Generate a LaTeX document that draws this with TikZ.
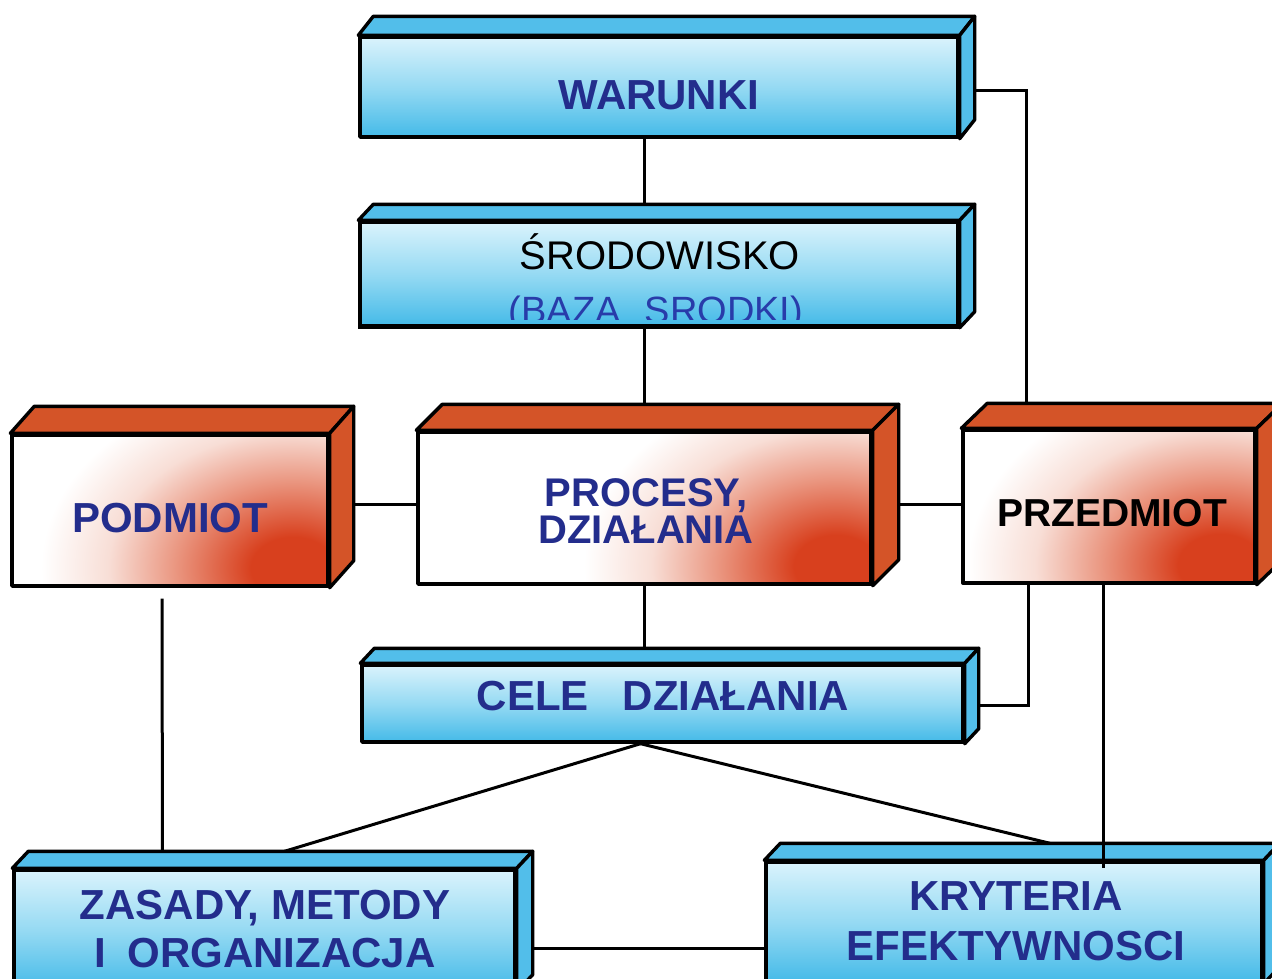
\documentclass[tikz,border=0pt]{standalone}
\usepackage{fontspec}
\setmainfont{Liberation Sans}
\usetikzlibrary{calc}

\definecolor{txtblue}{RGB}{35,45,140}
\definecolor{txtblue2}{RGB}{40,60,170}
\definecolor{bluetop}{RGB}{218,243,252}
\definecolor{bluemid}{RGB}{150,218,243}
\definecolor{bluebot}{RGB}{68,186,232}
\definecolor{blueside}{RGB}{82,190,234}
\definecolor{brick}{RGB}{212,84,40}
\definecolor{glowcore}{RGB}{216,64,30}
\definecolor{glowmid}{RGB}{234,150,128}
\definecolor{glowpale}{RGB}{248,222,214}

% glow for the front faces of the brick boxes
\pgfdeclareradialshading{glow}{\pgfpoint{0bp}{0bp}}{%
  color(0bp)=(glowcore); color(2.5bp)=(glowcore); color(7bp)=(glowmid);
  color(11bp)=(glowpale); color(15bp)=(white); color(50bp)=(white)}

\pgfdeclarelayer{paper}
\pgfdeclarelayer{wires}
\pgfsetlayers{paper,wires,main}

% top and right faces of a box drawn behind a front-face node
\newcommand{\boxdepth}[4]{%
  \filldraw[#4] (#1.north west) -- ++(#2,-#3) -- ($(#1.north east)+(#2,-#3)$)
    -- (#1.north east) -- cycle;
  \filldraw[#4] (#1.north east) -- ++(#2,-#3) -- ($(#1.south east)+(#2,-#3)$)
    -- (#1.south east) -- cycle;
}

\begin{document}
\begin{tikzpicture}[x=1pt,y=-1pt,
  edge/.style={line width=3.4pt, draw=black, line join=round},
  wire/.style={line width=3pt, draw=black},
  bluefront/.style={edge, top color=bluetop, bottom color=bluebot,
    middle color=bluemid, inner sep=0pt},
  bluedepth/.style={edge, fill=blueside},
  brickfront/.style={edge, fill=white, inner sep=0pt,
    path picture={\shade[shading=glow]
      ($(path picture bounding box.south east)+(-35,-18)$)
      ellipse [x radius=420, y radius=310];}},
  brickdepth/.style={edge, fill=brick},
  label/.style={inner sep=0pt, align=center, text=txtblue,
    font=\bfseries\fontsize{42}{48}\selectfont},
]
\useasboundingbox (0,0) rectangle (1272,978);
\clip (0,0) rectangle (1272,978);
\begin{pgfonlayer}{paper}
  \fill[white] (0,0) rectangle (1272,978);
\end{pgfonlayer}

% ---- front faces
\node[bluefront, minimum width=598, minimum height=100] (war)   at (659,87) {};
\node[bluefront, minimum width=598, minimum height=104] (srod)  at (659,274) {};
\node[brickfront, minimum width=316, minimum height=151] (pod)  at (170,510.5) {};
\node[brickfront, minimum width=453, minimum height=152] (proc) at (644.5,508) {};
\node[brickfront, minimum width=292, minimum height=153] (przed) at (1109,506.5) {};
\node[bluefront, minimum width=601, minimum height=77]  (cele)  at (662.5,703.5) {};
\node[bluefront, minimum width=501, minimum height=120] (zas)   at (264.5,930) {};
\node[bluefront, minimum width=496, minimum height=120] (kry)   at (1014,922) {};

% ---- depth faces
\boxdepth{war}{15}{19}{bluedepth}
\boxdepth{srod}{15}{16}{bluedepth}
\boxdepth{pod}{24}{27}{brickdepth}
\boxdepth{proc}{26}{26}{brickdepth}
\boxdepth{przed}{26}{25}{brickdepth}
\boxdepth{cele}{14}{15}{bluedepth}
\boxdepth{zas}{16}{17}{bluedepth}
\boxdepth{kry}{16}{17}{bluedepth}

% ---- texts
\node[label] (war-t) at (659,95) {WARUNKI};
\begin{scope}
  \clip (srod.north west) rectangle ($(srod.south east)+(0,-8)$);
  \node[anchor=base, inner sep=0pt, font=\fontsize{40}{48}\selectfont]
    (srod-a) at ($(srod.north)+(1,49)$) {ŚRODOWISKO};
  \node[anchor=base, inner sep=0pt, text=txtblue2, font=\fontsize{38}{44}\selectfont]
    (srod-b) at ($(srod.south)+(-3,-4)$) {(BAZA\hspace{24pt}SRODKI)};
\end{scope}
\draw[edge] (srod.south west) -- (srod.south east);
\node[label] (pod-t) at (170,518) {PODMIOT};
\node[label, font=\bfseries\fontsize{40}{37}\selectfont] (proc-t) at (646,511)
  {PROCESY,\\DZIAŁANIA};
\node[label, text=black, font=\bfseries\fontsize{39}{44}\selectfont] (przed-t)
  at (1112,513) {PRZEDMIOT};
\node[label] (cele-t) at (663,696) {CELE\hspace{34pt}DZIAŁANIA};
\node[label] (zas-t) at (265,929) {ZASADY, METODY\\I\hspace{0.5em}ORGANIZACJA};
\node[label, font=\bfseries\fontsize{42}{50}\selectfont] (kry-t) at (1016,921)
  {KRYTERIA\\EFEKTYWNOSCI};

% ---- connectors (beneath the boxes)
\begin{pgfonlayer}{wires}
  \coordinate (pl) at ($(proc.west)+(0,-4)$);
  \draw[wire] (war.south -| proc.north) -- (srod.north -| proc.north);
  \draw[wire] (srod.south -| proc.north) -- (proc.north);
  \draw[wire] ($(war.east)+(0,3)$) -| ($(przed.north west)+(65,0)$);
  \draw[wire] (pod.east |- pl) -- (pl);
  \draw[wire] (proc.east |- pl) -- (przed.west |- pl);
  \draw[wire] (proc.south) -- (cele.north -| proc.south);
  \draw[wire] ($(przed.south west)+(67,0)$) |- ($(cele.east)+(0,2)$);
  \draw[wire] ($(pod.south)+(-8,11)$) -- ($(zas.north)+(-102,0)$);
  \draw[wire] ($(cele.south)+(-22,0)$) -- ($(zas.north)+(20,-17)$);
  \draw[wire] ($(cele.south)+(-22,0)$) -- ($(kry.north)+(36,-17)$);
  \draw[wire] ($(zas.east)+(0,18)$) -- ($(kry.west)+(0,26)$);
\end{pgfonlayer}

% PRZEDMIOT to KRYTERIA crosses the top face
\draw[wire] ($(przed.south)+(-6,0)$) -- ($(kry.north)+(89,8)$);
\end{tikzpicture}
\end{document}
